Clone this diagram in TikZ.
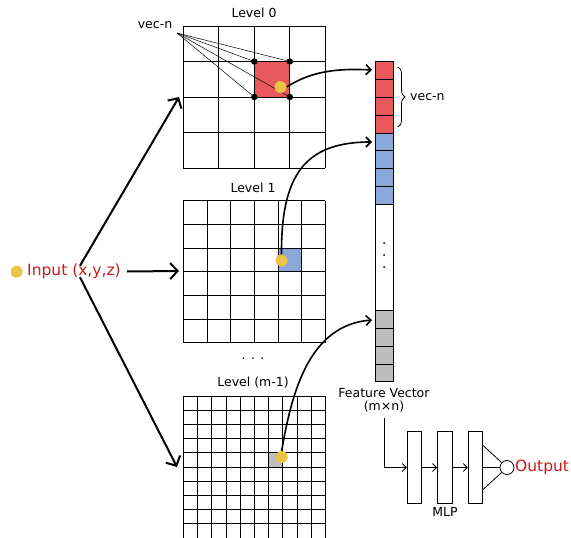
\documentclass[tikz,border=0pt]{standalone}
\usepackage{fontspec}
\setmainfont{DejaVu Sans}
\usetikzlibrary{arrows.meta,positioning,decorations.pathreplacing}
\definecolor{cellred}{RGB}{233,89,91}
\definecolor{cellblue}{RGB}{138,168,216}
\definecolor{cellgray}{RGB}{190,190,190}
\definecolor{dotyellow}{RGB}{234,196,70}
\definecolor{txtred}{RGB}{204,24,24}

\begin{document}
\begin{tikzpicture}[x=1pt,y=-1pt,
  gridln/.style={black,line width=0.8pt},
  ydot/.style={circle,fill=dotyellow,inner sep=0pt,minimum size=12pt},
  kdot/.style={circle,fill=black,inner sep=0pt,minimum size=6.5pt},
  lbl/.style={font=\fontsize{12.5}{14}\selectfont,inner sep=1pt},
  redlbl/.style={font=\fontsize{15.5}{17}\selectfont,text=txtred,inner sep=1pt},
  bigarrow/.style={line width=2pt,-{Straight Barb[length=7.5pt,width=16pt]}},
  curvearrow/.style={line width=1.6pt,-{Straight Barb[length=5pt,width=10pt]}},
  smallarrow/.style={line width=0.9pt,-{Straight Barb[length=4pt,width=8pt]}},
  fvcell/.style={draw,line width=0.8pt},
  mlpbox/.style={draw,line width=0.8pt,minimum width=14.4pt,minimum height=71.6pt,inner sep=0pt}]
\useasboundingbox (0,0) rectangle (571,538);

% level 0
\fill[cellred] (254.3,61.5) rectangle ++(35.5,35.5);
\foreach \i in {0,...,4} {
  \draw[gridln] (183.3+\i*35.5,26) -- ++(0,142);
  \draw[gridln] (183.3,26+\i*35.5) -- ++(142,0);
}
\node[lbl] (lv0) at (254,13) {Level 0};
\node[kdot] (c1) at (254.3,61.5) {};
\node[kdot] (c2) at (289.8,61.5) {};
\node[kdot] (c3) at (254.3,97) {};
\node[kdot] (c4) at (289.8,97) {};
\node[lbl] (vecn) at (155,25) {vec-n};
\coordinate (fan) at (177,33);
\foreach \c in {c1,c2,c3,c4} \draw[line width=0.5pt] (fan) -- (\c.center);
\node[ydot] (d0) at (280.5,87) {};

% level 1
\fill[cellblue] (278,248.3) rectangle ++(23.7,23.7);
\foreach \i in {0,...,6} {
  \draw[gridln] (183.3+\i*23.67,200.7) -- ++(0,142);
  \draw[gridln] (183.3,200.7+\i*23.67) -- ++(142,0);
}
\node[lbl] (lv1) at (253,188) {Level 1};
\node[ydot] (d1) at (281.5,260.5) {};
\node[lbl] (lvdots) at (253,359) {. . .};

% level m-1
\fill[cellgray] (268.5,452.8) rectangle ++(14.2,14.2);
\foreach \i in {0,...,10} {
  \draw[gridln] (183.3+\i*14.2,396) -- ++(0,142);
  \draw[gridln] (183.3,396+\i*14.2) -- ++(142,0);
}
\node[lbl] (lvm) at (253,383) {Level (m-1)};
\node[ydot] (d2) at (281.7,457) {};

% input
\node[ydot] (inpdot) at (16.7,271.7) {};
\node[redlbl,anchor=west] (inp) at (26,271.5) {Input (x,y,z)};
\coordinate (g0) at (179,97);
\coordinate (g1) at (179,271);
\coordinate (g2) at (177,467);
\draw[bigarrow] ([xshift=6pt,yshift=-3pt]inp.north) -- (g0);
\draw[bigarrow] ([xshift=5pt]inp.east) -- (g1);
\draw[bigarrow] ([xshift=6pt,yshift=3pt]inp.south) -- (g2);

% feature vector
\foreach \k in {0,...,3} {
  \draw[fvcell,fill=cellred] (375.3,61.7+\k*17.8) rectangle ++(18,17.8);
  \draw[fvcell,fill=cellblue] (375.3,132.9+\k*17.8) rectangle ++(18,17.8);
  \draw[fvcell,fill=cellgray] (375.3,310.7+\k*17.75) rectangle ++(18,17.75);
}
\draw[fvcell] (375.3,204.1) rectangle (393.3,310.7);
\foreach \k in {0,1,2} \fill (384,243+\k*12) circle (1pt);
\draw[line width=0.8pt,decorate,decoration={brace,amplitude=7pt}] (398,67) -- (398,127);
\node[lbl,anchor=west] (bracelbl) at (409,97) {vec-n};
\node[lbl] (fvlbl) at (384,393) {Feature Vector};
\node[lbl] (fvdim) at (384,407) {(m×n)};

\coordinate (f0) at (372,70);
\coordinate (f1) at (372,142);
\coordinate (f2) at (372,320);
\draw[curvearrow] (d0.east) .. controls (310,72) and (335,68) .. (f0);
\draw[curvearrow] (d1.north) .. controls (281,175) and (305,142) .. (f1);
\draw[curvearrow] (d2.north) .. controls (292,390) and (310,325) .. (f2);

% mlp
\node[mlpbox] (m1) at (414.5,467.5) {};
\node[mlpbox] (m2) at (444.8,467.5) {};
\node[mlpbox] (m3) at (475.5,467.5) {};
\node[circle,draw,line width=0.8pt,minimum size=14pt,inner sep=0pt] (outc) at (507,467.5) {};
\node[redlbl,anchor=west] (outlbl) at (514,467.5) {Output};
\node[lbl] (mlplbl) at (445,512) {MLP};
\draw[smallarrow] ([yshift=-4pt]fvdim.south) |- (m1.west);
\draw[smallarrow] (m1) -- (m2);
\draw[smallarrow] (m2) -- (m3);
\draw[line width=0.8pt] ([yshift=22pt]m3.east) -- (outc);
\draw[line width=1.6pt] (m3.east) -- (outc);
\draw[line width=0.8pt] ([yshift=-22pt]m3.east) -- (outc);
\end{tikzpicture}
\end{document}
